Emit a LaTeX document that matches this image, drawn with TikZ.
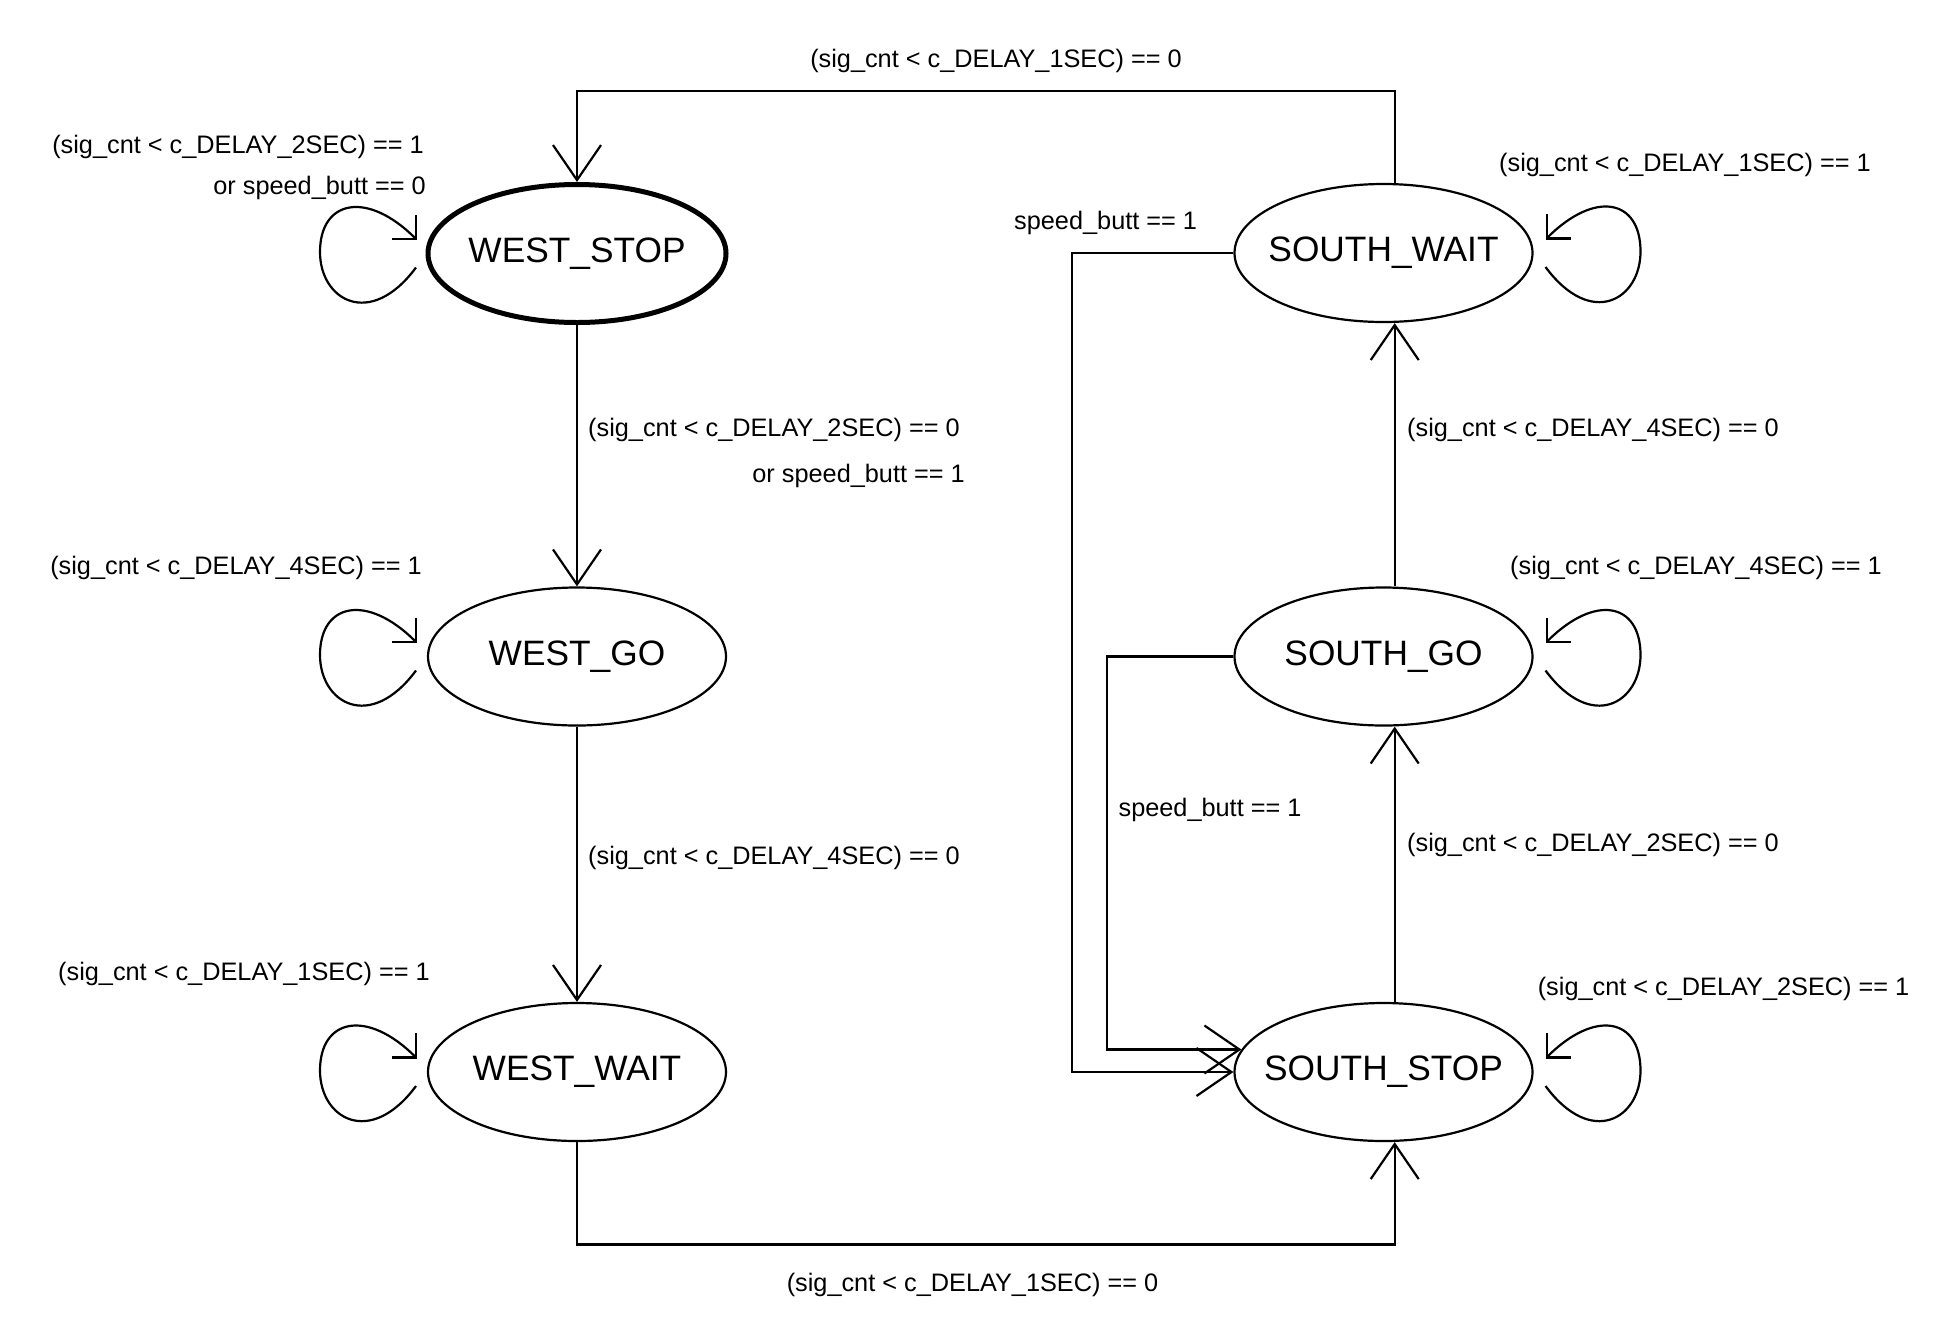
\documentclass[tikz,border=0pt]{standalone}
\usepackage{fontspec}
\setmainfont{Liberation Sans}
\usetikzlibrary{arrows.meta,shapes.geometric,calc}
\begin{document}
\begin{tikzpicture}[x=1pt,y=-1pt,
  state/.style={ellipse, draw, line width=2.2pt, minimum width=298pt, minimum height=138pt, inner sep=0pt, font=\fontsize{35.3}{40}\selectfont},
  initstate/.style={state, line width=5pt},
  lbl/.style={inner sep=0pt, yshift=-5pt, font=\fontsize{25.3}{30}\selectfont, text height=0.728em, text depth=0.212em},
  wire/.style={line width=2.2pt},
  arr/.style={wire, -{Straight Barb[length=35pt,width=48pt]}},
  looparr/.style={wire, -{Straight Barb[length=17pt,width=34pt]}}]
\useasboundingbox (0,0) rectangle (1956,1342);
% states
\node[initstate] (WS) at (577,253.5) {\makebox[0pt]{WEST\_STOP}};
\node[state] (WG) at (577,656.5) {\makebox[0pt]{WEST\_GO}};
\node[state] (WW) at (577,1072) {\makebox[0pt]{WEST\_WAIT}};
\node[state] (SW) at (1383.5,253) {\makebox[0pt]{SOUTH\_WAIT}};
\node[state] (SG) at (1383.5,656.5) {\makebox[0pt]{SOUTH\_GO}};
\node[state] (SS) at (1383.5,1072) {\makebox[0pt]{SOUTH\_STOP}};
% helper coordinates
\coordinate (swn) at ([xshift=11.2pt]SW.north);
\coordinate (sws) at ([xshift=11.2pt]SW.south);
\coordinate (sgn) at ([xshift=11.2pt]SG.north);
\coordinate (sgs) at ([xshift=11.2pt]SG.south);
\coordinate (ssn) at ([xshift=11.2pt]SS.north);
\coordinate (sss) at ([xshift=11.2pt]SS.south);
\coordinate (topy) at (0,90.7);
\coordinate (boty) at (0,1244.4);
\coordinate (ox) at (1071.6,600);
\coordinate (ix) at (1107,800);
% straight transitions
\draw[arr] (WS.south) -- (WG.north);
\draw[arr] (WG.south) -- (WW.north);
\draw[arr] (WW.south) -- (WW.south |- boty) -| (sss);
\draw[arr] (ssn) -- (sgs);
\draw[arr] (sgn) -- (sws);
\draw[arr] (swn) -- (swn |- topy) -| (WS.north);
\draw[arr] (SW.west) -| (ox) |- (SS.west);
\draw[arr] (SG.west) -| (ix) |- (SS.171);
% self loops (west side)
\foreach \s in {WS,WG,WW}{
  \draw[looparr] ($(\s)+(-161,14)$) .. controls +(-46,62) and +(0,48) .. ($(\s)+(-257,-1.5)$) .. controls +(0,-52) and +(-50,-50) .. ($(\s)+(-160,-13.5)$);
}
% self loops (south side)
\foreach \s in {SW,SG,SS}{
  \draw[looparr] ($(\s)+(162,14)$) .. controls +(46,62) and +(0,48) .. ($(\s)+(257,-1.5)$) .. controls +(0,-52) and +(50,-50) .. ($(\s)+(162,-13.5)$);
}
% labels
\node[lbl] (l1) at (996,60) {(sig\_cnt < c\_DELAY\_1SEC) == 0};
\node[lbl, anchor=east] (l2) at (424,146) {(sig\_cnt < c\_DELAY\_2SEC) == 1};
\node[lbl, anchor=east] (l3) at (426,187) {or speed\_butt == 0};
\node[lbl, anchor=west] (l4) at (588,429) {(sig\_cnt < c\_DELAY\_2SEC) == 0};
\node[lbl, anchor=east] (l5) at (965,475) {or speed\_butt == 1};
\node[lbl, anchor=east] (l6) at (422,567) {(sig\_cnt < c\_DELAY\_4SEC) == 1};
\node[lbl, anchor=west] (l7) at (588,857) {(sig\_cnt < c\_DELAY\_4SEC) == 0};
\node[lbl, anchor=west] (l8) at (58,972.7) {(sig\_cnt < c\_DELAY\_1SEC) == 1};
\node[lbl] (l9) at (972.5,1283.7) {(sig\_cnt < c\_DELAY\_1SEC) == 0};
\node[lbl, anchor=west] (l10) at (1014,221.6) {speed\_butt == 1};
\node[lbl, anchor=west] (l11) at (1499,164) {(sig\_cnt < c\_DELAY\_1SEC) == 1};
\node[lbl, anchor=west] (l12) at (1407,429) {(sig\_cnt < c\_DELAY\_4SEC) == 0};
\node[lbl, anchor=west] (l13) at (1510,567) {(sig\_cnt < c\_DELAY\_4SEC) == 1};
\node[lbl, anchor=west] (l14) at (1118.4,809) {speed\_butt == 1};
\node[lbl, anchor=west] (l15) at (1407,844) {(sig\_cnt < c\_DELAY\_2SEC) == 0};
\node[lbl, anchor=west] (l16) at (1537.6,987.6) {(sig\_cnt < c\_DELAY\_2SEC) == 1};
\end{tikzpicture}
\end{document}
